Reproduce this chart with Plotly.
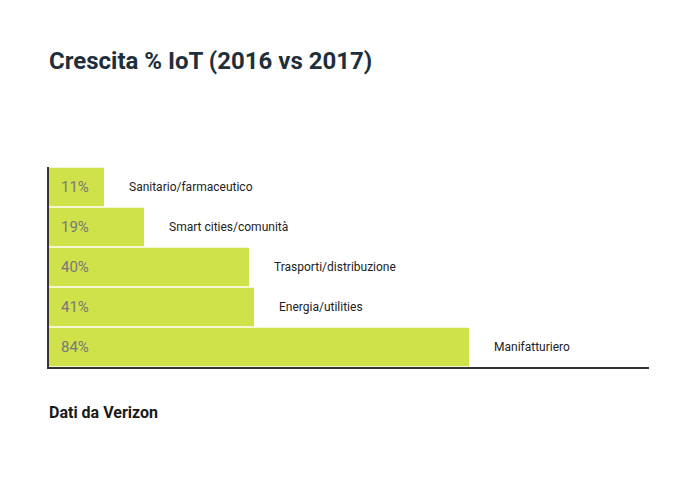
import plotly.graph_objects as go

# data
categories = ["Sanitario/farmaceutico", "Smart cities/comunità",
              "Trasporti/distribuzione", "Energia/utilities", "Manifatturiero"]
growth = [11, 19, 40, 41, 84]
pct_labels = ["11%", "19%", "40%", "41%", "84%"]

bar_color = "#d0e24a"

fig = go.Figure()
fig.add_trace(go.Bar(
    x=growth,
    y=categories,
    orientation="h",
    marker=dict(color=bar_color, line=dict(width=0)),
    hoverinfo="x+y",
))

# percent inside bars, category name to the right
for cat, val, lab in zip(categories, growth, pct_labels):
    fig.add_annotation(x=0, y=cat, text=lab, showarrow=False,
                       xanchor="left", xshift=10,
                       font=dict(family="Roboto", size=15, color="#777777"))
    fig.add_annotation(x=val, y=cat, text=cat, showarrow=False,
                       xanchor="left", xshift=23,
                       font=dict(family="Roboto", size=12, color="#222222"))

fig.add_annotation(x=0, y=-0.225, xref="paper", yref="paper",
                   text="<b>Dati da Verizon</b>", showarrow=False,
                   xanchor="left", yanchor="middle", xshift=-2,
                   font=dict(family="Roboto", size=16, color="#1a1a1a"))

# page body has an 8px margin, so the figure is a bit smaller
fig.update_layout(
    width=692, height=472,
    margin=dict(l=41, r=51, t=159, b=113),
    paper_bgcolor="white", plot_bgcolor="white",
    bargap=0.04,
    showlegend=False,
    title=dict(text="<b>Crescita % IoT (2016 vs 2017)</b>",
               x=41/692, xanchor="left", y=1 - 53/472, yanchor="middle",
               font=dict(family="Roboto", size=24, color="#1f2f3a")),
    xaxis=dict(range=[0, 120], showgrid=False, zeroline=False,
               showticklabels=False, ticks="", showline=True,
               linecolor="#333333", linewidth=1.5),
    yaxis=dict(autorange="reversed", showgrid=False, zeroline=False,
               showticklabels=False, ticks="", showline=True,
               linecolor="#333333", linewidth=1.5),
)

fig.write_html("out.html")
